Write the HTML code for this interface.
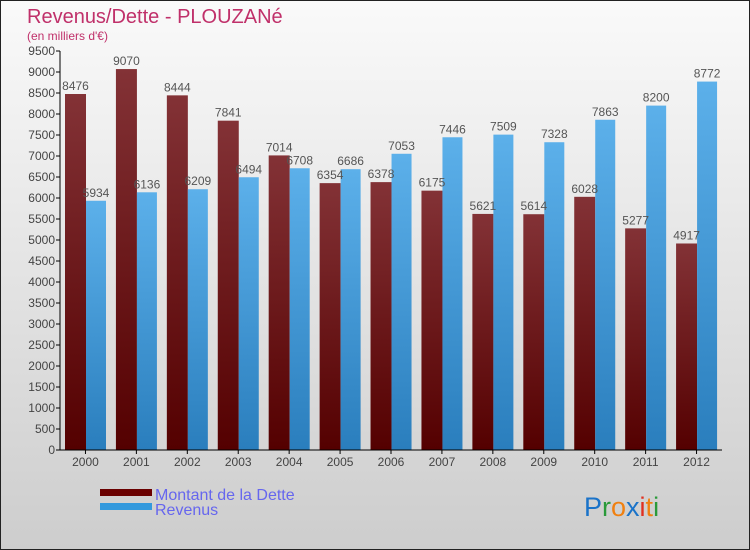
<!DOCTYPE html>
<html><head><meta charset="utf-8"><style>
body{margin:0}
#c{position:relative;width:750px;height:550px;overflow:hidden;font-family:"Liberation Sans",sans-serif}
</style></head><body>
<div id="c">
<svg id="s" width="750" height="550" xmlns="http://www.w3.org/2000/svg" font-family="Liberation Sans, sans-serif">
<defs>
<linearGradient id="bg" x1="0" y1="0" x2="0" y2="1"><stop offset="0" stop-color="#fafafa"/><stop offset="1" stop-color="#cdcdcd"/></linearGradient>
<linearGradient id="gd" x1="0" y1="0" x2="0" y2="1"><stop offset="0" stop-color="#833236"/><stop offset="1" stop-color="#540000"/></linearGradient>
<linearGradient id="gr" x1="0" y1="0" x2="0" y2="1"><stop offset="0" stop-color="#5cb0ea"/><stop offset="1" stop-color="#2a7ebd"/></linearGradient>
</defs>
<rect x="0.5" y="0.5" width="749" height="549" fill="url(#bg)" stroke="#222"/>
<text x="27" y="23" font-size="20" fill="#c0306a">Revenus/Dette - PLOUZANé</text>
<text x="27" y="40" font-size="12" fill="#c0306a">(en milliers d'€)</text>
<g id="plot"></g>
<rect x="100" y="489" width="52" height="7" fill="#6a0000"/>
<rect x="100" y="503" width="52" height="7" fill="#3399dd"/>
<text x="155" y="500" font-size="16" fill="#6666ee">Montant de la Dette</text>
<text x="155" y="515" font-size="16" fill="#6666ee">Revenus</text>
<text x="584" y="516" font-size="27"><tspan fill="#1a73c9">P</tspan><tspan fill="#2a9a3a">r</tspan><tspan fill="#f08010">o</tspan><tspan fill="#1a73c9">x</tspan><tspan fill="#e03020">i</tspan><tspan fill="#f08010">t</tspan><tspan fill="#2a9a3a">i</tspan></text>
</svg>
</div>
<script>
const years=["2000","2001","2002","2003","2004","2005","2006","2007","2008","2009","2010","2011","2012"];
const debt=[8476,9070,8444,7841,7014,6354,6378,6175,5621,5614,6028,5277,4917];
const revenue=[5934,6136,6209,6494,6708,6686,7053,7446,7509,7328,7863,8200,8772];
const yTicks=[0,500,1000,1500,2000,2500,3000,3500,4000,4500,5000,5500,6000,6500,7000,7500,8000,8500,9000,9500];
const NS="http://www.w3.org/2000/svg";
const x0=60,x1=722,yb=450,yt=51,ymax=9500;
const bw=(x1-x0)/years.length;
function y(v){return yb-(v/ymax)*(yb-yt);}
function xg(i){return x0+i*bw;}
const g=document.getElementById('plot');
function mk(t,a){const e=document.createElementNS(NS,t);for(const k in a)e.setAttribute(k,a[k]);g.appendChild(e);return e;}
years.forEach((yr,i)=>{
  const gx=xg(i);
  let r=mk('rect',{x:gx+5,y:y(debt[i]),width:21,height:yb-y(debt[i]),fill:'url(#gd)'});
  
  
  r=mk('rect',{x:gx+26,y:y(revenue[i]),width:20,height:yb-y(revenue[i]),fill:'url(#gr)'});
  
  
  let t=mk('text',{x:gx+15.5,y:y(debt[i])-4,'font-size':12,fill:'#555','text-anchor':'middle'});
  t.textContent=debt[i];
  
  
  t=mk('text',{x:gx+36,y:y(revenue[i])-4,'font-size':12,fill:'#555','text-anchor':'middle'});
  t.textContent=revenue[i];
  
  
  t=mk('text',{x:gx+bw/2,y:466,'font-size':12,fill:'#444','text-anchor':'middle'});
  t.textContent=yr;
  
  
  const tk=mk('line',{x1:gx+bw/2,x2:gx+bw/2,y1:yb,y2:yb+4,stroke:'#000'});
  
  
});
yTicks.forEach(v=>{
  const l=mk('line',{x1:x0-4,x2:x0,y1:y(v),y2:y(v),stroke:'#000'});
  
  
  const t=mk('text',{x:x0-5,y:y(v)+4,'font-size':12,fill:'#444','text-anchor':'end'});
  t.textContent=v;
  
  
});
let ax=mk('line',{x1:x0,x2:x0,y1:yt,y2:yb,stroke:'#000'});


ax=mk('line',{x1:x0-4,x2:x1,y1:yb,y2:yb,stroke:'#000'});


</script>
</body></html>
